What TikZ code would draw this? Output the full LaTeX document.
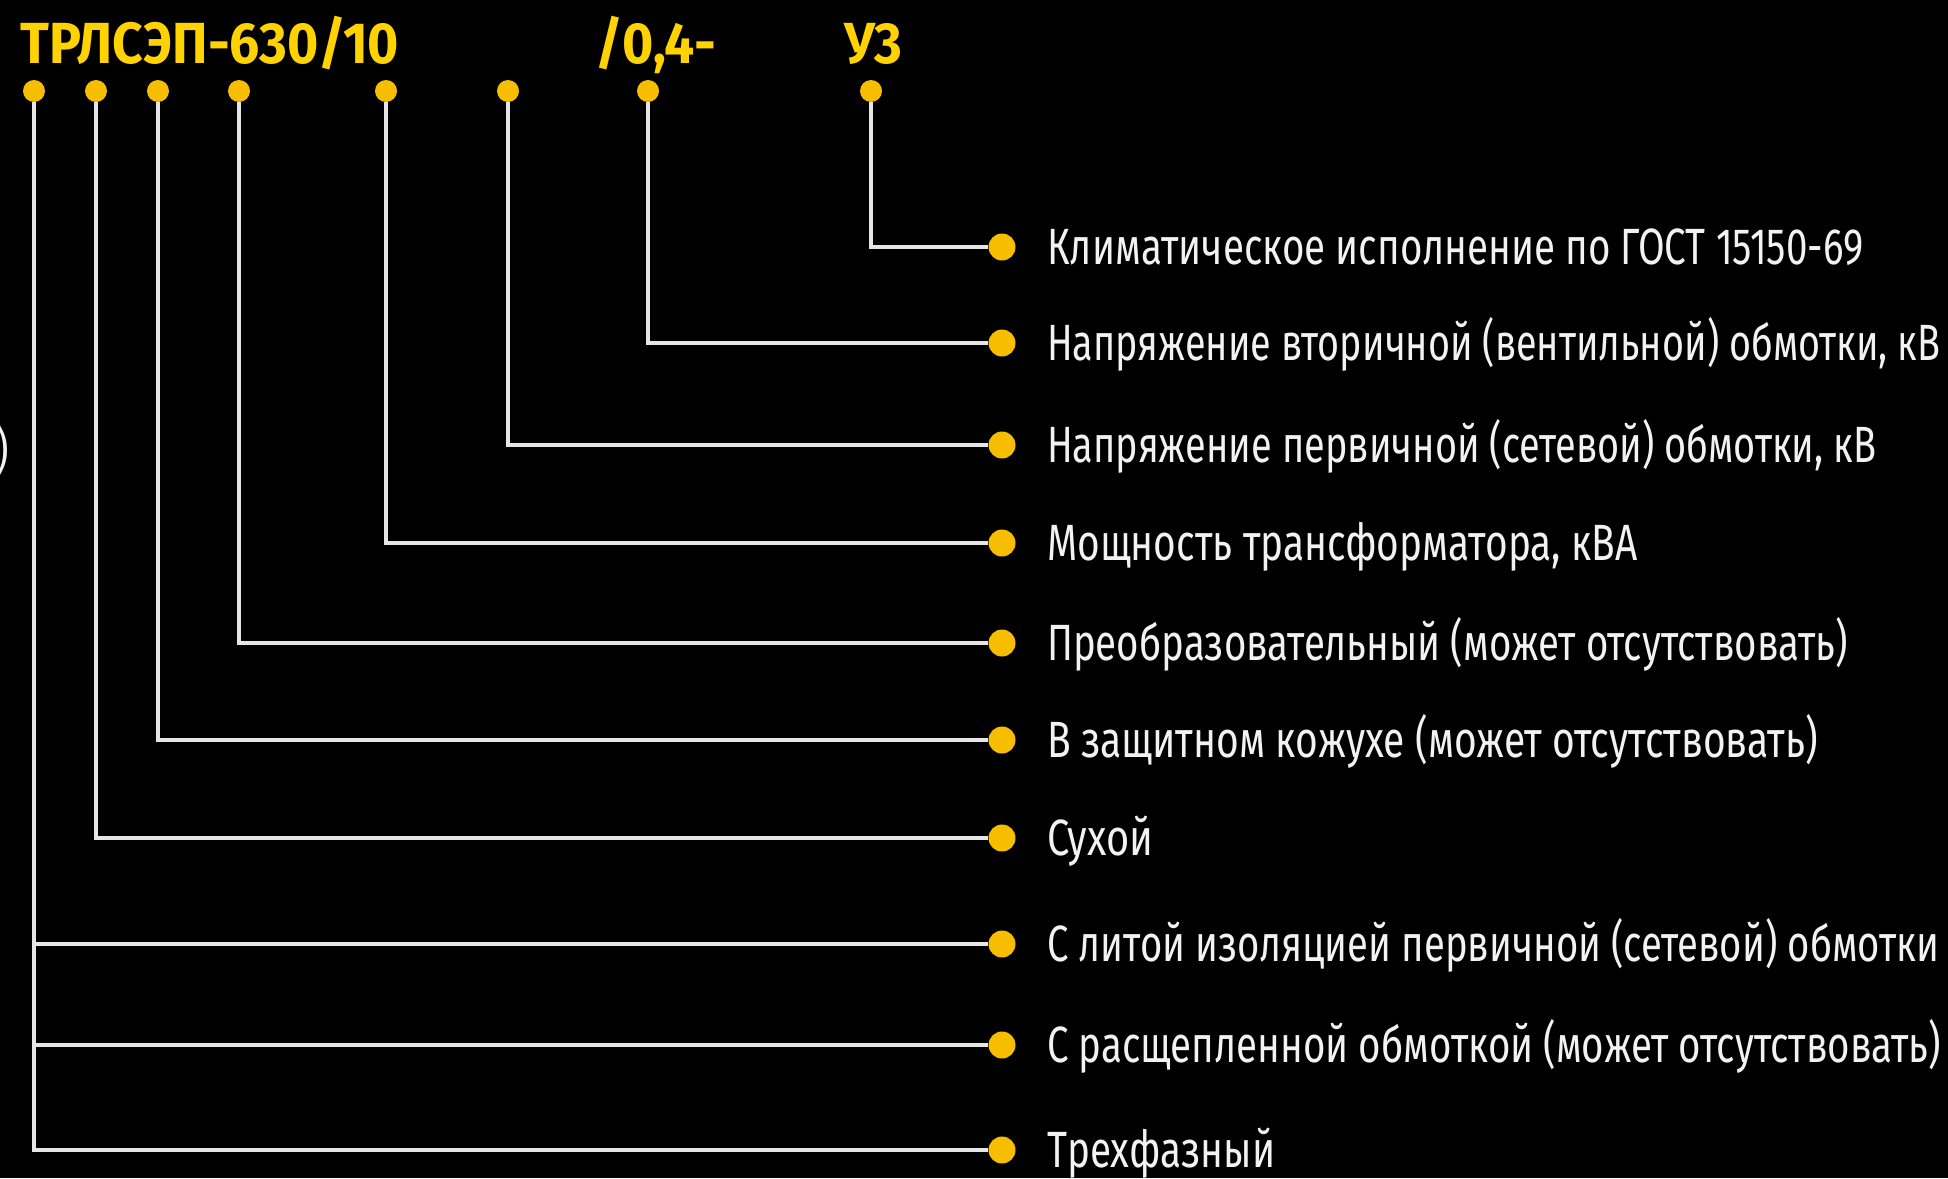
\documentclass[tikz,border=0pt]{standalone}
\usepackage{fontspec}
\usepackage{graphicx}
\setmainfont{Fira Sans}

\definecolor{bgblack}{HTML}{000000}
\definecolor{codeyellow}{HTML}{FFD200}
\definecolor{dotyellow}{HTML}{F7BE00}
\definecolor{wiregray}{HTML}{E6E6E6}
\definecolor{labelwhite}{HTML}{F2F2F2}

\newsavebox\calbox
\newlength\calwd
\newcommand\descfont{\fontsize{51}{60}\selectfont}
\newcommand\codefont{\fontsize{58}{66}\selectfont\bfseries}
% explanation set to a given width, height unchanged
\newcommand\desclabel[2]{\resizebox{#1pt}{\height}{\descfont #2}}
\newcommand\codelabel[1]{\scalebox{\tsx}[1]{\codefont #1}}

\begin{document}
% condensed widths for the text styles
\sbox\calbox{\descfont Климатическое исполнение по ГОСТ 15150-69}%
\setlength\calwd{\wd\calbox}%
\pgfmathsetmacro\dsx{816/\calwd}%
\sbox\calbox{\codefont ТРЛСЭП-630/10}%
\setlength\calwd{\wd\calbox}%
\pgfmathsetmacro\tsx{379/\calwd}%
\begin{tikzpicture}[x=1pt,y=-1pt,
  topdot/.style={circle,fill=dotyellow,inner sep=0pt,minimum size=22pt},
  enddot/.style={circle,fill=dotyellow,inner sep=0pt,minimum size=27pt},
  wire/.style={draw=wiregray,line width=4pt},
  codetext/.style={anchor=base west,inner sep=0pt,text=codeyellow},
  desctext/.style={anchor=base west,inner sep=0pt,text=labelwhite}]

\fill[bgblack] (0,0) rectangle (1948,1178);
\useasboundingbox (0,0) rectangle (1948,1178);

% type designation
\node[codetext] (code1) at (20,63) {\codelabel{ТРЛСЭП-630/10}};
\node[codetext] (code2) at (595,63) {\codelabel{/0,4-}};
\node[codetext] (code3) at (844,63) {\codelabel{У3}};

% markers under the designation
\node[topdot] (t1) at (34,91) {};
\node[topdot] (t2) at (96,91) {};
\node[topdot] (t3) at (158,91) {};
\node[topdot] (t4) at (239,91) {};
\node[topdot] (t5) at (386,91) {};
\node[topdot] (t6) at (508,91) {};
\node[topdot] (t7) at (648,91) {};
\node[topdot] (t8) at (871,91) {};

% markers in front of the explanations
\foreach \i/\y in {1/247,2/343,3/445,4/543,5/643,6/740,7/838,8/944,9/1045,10/1150}
  \node[enddot] (e\i) at (1002,\y) {};

% explanations
\node[desctext] (d1) at (1047,264) {\desclabel{816}{Климатическое исполнение по ГОСТ 15150-69}};
\node[desctext] (d2) at (1047,360) {\desclabel{893}{Напряжение вторичной (вентильной) обмотки, кВ}};
\node[desctext] (d3) at (1047,462) {\desclabel{829}{Напряжение первичной (сетевой) обмотки, кВ}};
\node[desctext] (d4) at (1047,560) {\desclabel{590}{Мощность трансформатора, кВА}};
\node[desctext] (d5) at (1047,660) {\desclabel{801}{Преобразовательный (может отсутствовать)}};
\node[desctext] (d6) at (1047,757) {\desclabel{771}{В защитном кожухе (может отсутствовать)}};
\node[desctext] (d7) at (1047,855) {\desclabel{106}{Сухой}};
\node[desctext] (d8) at (1047,961) {\desclabel{892}{С литой изоляцией первичной (сетевой) обмотки}};
\node[desctext] (d9) at (1047,1062) {\desclabel{894}{С расщепленной обмоткой (может отсутствовать)}};
\node[desctext] (d10) at (1047,1167) {\desclabel{228}{Трехфазный}};

% leftover bracket at the left edge
\node[anchor=base east,inner sep=0pt,text=labelwhite] (br) at (9,468) {\scalebox{\dsx}[1]{\descfont )}};

% leader lines
\draw[wire] (t8) |- (e1);
\draw[wire] (t7) |- (e2);
\draw[wire] (t6) |- (e3);
\draw[wire] (t5) |- (e4);
\draw[wire] (t4) |- (e5);
\draw[wire] (t3) |- (e6);
\draw[wire] (t2) |- (e7);
\draw[wire] (t1) |- (e8);
\draw[wire] (t1) |- (e9);
\draw[wire] (t1) |- (e10);
\end{tikzpicture}
\end{document}
